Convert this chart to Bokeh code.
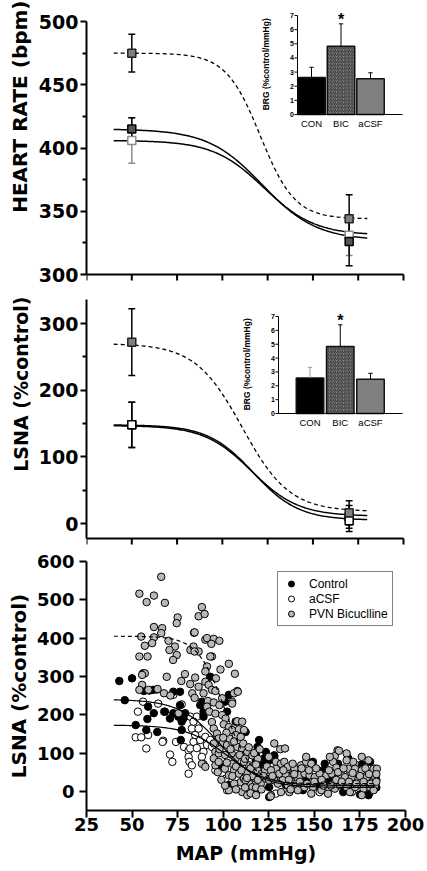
import numpy as np
from bokeh.plotting import figure
from bokeh.models import Range1d, FixedTicker, Title, Legend, LegendItem
from bokeh.layouts import column
from bokeh.embed import file_html
from bokeh.resources import INLINE
from bokeh.core.properties import value

# ---------------- data ----------------
MAP_TICKS = [25, 50, 75, 100, 125, 150, 175, 200]
FIT_MAP_RANGE = [40, 180]
FIT_MAP_RANGE_C = [40, 183]

# Panel A: heart rate (bpm), mean +/- SEM at low and high MAP
HR_MAP = [50, 170]
HR_CON = [415, 326]
HR_CON_ERR = [9, 19]
HR_ACSF = [406, 331]
HR_ACSF_ERR = [18, 16]
HR_BIC = [475, 344]
HR_BIC_ERR = [15, 19]
# sigmoid fits: top, bottom, MAP50, slope
HR_FIT_CON = [415, 327, 122, 15]
HR_FIT_ACSF = [406, 331, 123, 14]
HR_FIT_BIC = [475, 344, 121, 9.5]
HR_TICKS = [300, 350, 400, 450, 500]
HR_MINOR = [325, 375, 425, 475]

# Panel B: LSNA (%control)
LS_MAP = [50, 170]
LS_CON = [148, 10]
LS_CON_ERR = [34, 17]
LS_ACSF = [148, 4]
LS_ACSF_ERR = [34, 16]
LS_BIC = [272, 16]
LS_BIC_ERR = [50, 18]
LS_FIT_CON = [148, 5, 117, 12.5]
LS_FIT_ACSF = [147, 11, 116, 13]
LS_FIT_BIC = [270, 18, 111, 13]
LS_TICKS = [0, 100, 200, 300]
LS_MINOR = [50, 150, 250]

# Insets: baroreflex gain (%control/mmHg)
BRG_GROUPS = ["CON", "BIC", "aCSF"]
BRG_TICKS = [0, 1, 2, 3, 4, 5, 6, 7]
BRG_A = [2.62, 4.83, 2.52]
BRG_A_ERR = [0.72, 1.58, 0.43]
BRG_B = [2.57, 4.83, 2.48]
BRG_B_ERR = [0.76, 1.57, 0.42]

# Panel C: individual LSNA vs MAP points
CTRL_PTS = [(43, 288), (50, 295), (56, 308), (46, 238), (56.5, 262), (59.5, 263), (61.6, 265), (63.5, 266),
            (72.6, 260), (76.3, 260), (58.8, 221), (61.9, 204), (58.4, 189), (68, 208), (70.8, 190), (77.2, 182),
            (52, 173), (57.8, 160), (63.8, 155), (76.7, 134), (76.3, 225), (72.6, 204), (75.4, 195), (78.2, 190),
            (79.1, 204), (77.2, 160), (92.9, 299), (103.1, 252), (88.3, 234), (89.2, 195), (100.9, 234),
            (106.8, 182), (112.3, 155), (119.7, 134), (118.8, 116), (123.4, 103), (122.5, 86), (119.7, 59),
            (124.3, 33), (125.2, 11), (117.9, 81), (121.5, 70), (87.4, 225), (89.2, 208), (102.1, 208),
            (125.2, 81), (149.2, 77), (155.7, 72), (154.8, 55), (128, 90), (145.5, 29), (157.5, 29),
            (125.2, -15), (117.9, 99), (128, 94), (120.6, 74), (168.6, 86), (155.7, 27), (175, -8),
            (179.7, -8), (117.9, -8), (103.1, 16), (98.5, 64), (165.8, -2), (179.7, -10), (163, 72),
            (178.8, 29), (180.6, 77), (139.1, 55), (134.4, 16), (143.7, 3),
            (130, 60), (137, 40), (146, 50), (152, 15), (160, 40), (166, 20), (171, 30), (176, 70),
            (182, 40), (184, 10)]
ACSF_PTS = [(56, 234), (53.2, 208), (64.3, 229), (67.6, 208), (52, 141), (55, 141), (58.8, 147), (57.8, 112),
            (67.1, 132), (74.1, 129), (78.5, 116), (81, 107), (70.8, 96), (72.1, 77), (81, 90), (81.5, 77),
            (81, 46), (72.6, 252), (77.2, 227), (84.6, 116), (82.8, 164), (84.6, 147), (86.5, 164),
            (83.7, 129), (87.4, 134), (90.2, 142), (81.9, 112), (85.5, 113), (89.2, 103), (91.1, 121),
            (88.3, 90), (82.8, 68), (93.8, 116), (92.9, 134), (102.1, 3), (81.9, 195), (85.5, 195),
            (83.7, 182), (128.9, -6), (144.6, 55), (140.9, 29), (152, 29), (163, 29), (168.6, 3),
            (173.2, 64), (183.4, 59), (173.2, 68), (170.5, -2), (152.9, -2), (141.8, 11), (119.7, 11),
            (128.9, 29), (160.3, 20), (176, 16), (108.6, 77), (113.2, 55), (101.3, 33), (95.7, 55),
            (66.7, 129), (135, 45), (148, 35), (158, 10), (166, 45), (172, 25), (178, 45), (184, 30)]
BIC_PTS = [(66, 560), (54, 516), (58, 494), (62, 511), (68, 492), (75, 454), (74.5, 439), (62, 429),
           (66.5, 426), (66, 413), (55, 404), (62, 402), (61, 387), (57, 380), (70, 393), (73.5, 378),
           (70.5, 369), (74.5, 356), (72.5, 343), (54, 352), (58.5, 352), (57, 308), (55.5, 304), (69, 299),
           (79, 306), (77, 288), (55.5, 278), (54, 265), (59, 265), (64, 267), (67.5, 256), (71, 250),
           (84, 414), (82, 369), (83, 256), (75.5, 204), (90.2, 396), (86.5, 365), (93.8, 352),
           (88.3, 481), (86.5, 457), (89.8, 463), (91.1, 400), (94.8, 398), (97.9, 393), (93.5, 385),
           (84.3, 415), (83.7, 378), (84.3, 365), (92.9, 352), (91.1, 326), (90.2, 313), (98.5, 318),
           (103.1, 333), (106.4, 307), (96, 295), (90.2, 286), (84.6, 297), (81.9, 280), (86.5, 273),
           (92, 278), (93.8, 265), (95.7, 262), (89.2, 256), (84.3, 244), (107.7, 262), (105.9, 256),
           (104.9, 234), (91.6, 236), (94.8, 232), (97.9, 225), (99.4, 243), (91.1, 221), (92.4, 208),
           (95.7, 203), (99.4, 199), (101.3, 190), (100.3, 175), (103.1, 168), (104.9, 160), (108.6, 162),
           (111.4, 160), (106.8, 147), (109.6, 142), (93.8, 181), (94.8, 164), (96.6, 151), (97.5, 138),
           (99.4, 124), (102.1, 121), (104.9, 129), (107.7, 116), (110.4, 111), (113.2, 103), (116, 94),
           (95.7, 103), (94.8, 86), (95.7, 68), (97.5, 77), (100.9, 59), (103.1, 42), (105.9, 55),
           (108.6, 46), (109.6, 24), (111.4, 33), (114.2, 20), (117.9, 33), (120.6, 20), (118.8, 55),
           (114.2, 68), (111.4, 77), (106.8, 86), (104.6, 99), (89.2, 71), (103.4, 138), (101.8, 153),
           (107.7, 183), (110.4, 182), (88.3, 72), (90.2, 64), (94.8, 125), (97.5, 99), (104.9, 72),
           (112.3, 29), (103.1, 3), (116, 11), (123.4, 33), (108, 260), (104.9, 229), (121, 45), (118, 10),
           (123, 55), (116, 40), (119, 85), (113, 50), (110.4, -2), (113.2, -10), (106, 20),
           (98, 110), (100, 140), (101, 95), (102, 75), (104, 110), (105, 40), (106, 130), (107, 65),
           (109, 95), (110, 55), (111, 125), (112, 85), (113, 35), (114, 115), (115, 60), (117, 100),
           (118, 70), (119, 30), (120, 110), (121, 5), (122, 40), (124, 65), (125, 90), (99, 30), (97, 50),
           (101, 15), (107, 5), (112, 10), (115, -5), (118, -10),
           (128, 125), (131.3, 110), (133.9, 112), (162.7, 107), (161.2, 92), (160.3, 77), (162.1, 62),
           (128.9, 77), (131.7, 72), (133.5, 77), (135.4, 64), (139.1, 59), (142.7, 68), (145.5, 77),
           (148.3, 72), (128.9, 59), (126.2, 55), (130.8, 46), (134.4, 42), (138.1, 42), (141.8, 42),
           (144.6, 46), (147.4, 42), (150.2, 37), (152.9, 46), (156.6, 42), (159.4, 46), (164.9, 42),
           (125.2, 29), (128, 29), (132.6, 29), (135.4, 16), (140, 20), (144.6, 11), (149.2, 11),
           (148.3, -6), (153.8, 3), (157.5, -6), (161.2, 7), (164, 16), (131.7, -2), (126.2, -10),
           (140.9, 3), (158.5, 90), (145.5, 90), (138.1, 72), (171.3, 77), (176, 90), (167.7, 99),
           (167.7, 81), (179.7, 81), (168.6, 59), (172.3, 59), (176, 55), (182.5, 59), (166.8, 37),
           (170.5, 37), (174.2, 33), (178.8, 37), (182.5, 29), (167.7, 11), (172.3, 11), (177, 7),
           (180.6, 11), (176, -10), (184.3, 59), (183.4, 37), (183.4, 16), (182.5, 3), (126, -13),
           (136.3, -2), (169.5, -2), (163.5, 106),
           (127, 40), (130, 20), (133, 55), (136, 30), (137, 5), (139, 45), (142, 25), (143, 60),
           (146, 20), (147, 55), (150, 25), (151, 60), (154, 30), (155, 15), (158, 55), (159, 15),
           (162, 30), (163, 50), (165, 25), (166, 60), (169, 25), (171, 48), (173, 20), (175, 40),
           (177, 25), (178, 60), (180, 45), (181, 20), (184, 45), (184, 25)]
LSC_FIT_CON = [240, 10, 98, 11]
LSC_FIT_ACSF = [173, 15, 102, 11]
LSC_FIT_BIC = [405, 20, 101, 7.4]
LSC_TICKS = [0, 100, 200, 300, 400, 500, 600]

BOLD = "DejaVu Sans"
ARIAL = "Liberation Sans"
FL = 86    # shared frame left edge (the column aligns the frames)
FR = 405   # frame right edge


def boltz(fit, x):
    top, bot, x50, s = fit
    return bot + (top - bot) / (1.0 + np.exp((x - x50) / s))


def style_axis(ax, tick_size):
    ax.axis_line_width = 2
    ax.axis_line_color = "black"
    ax.major_tick_line_width = 2
    ax.minor_tick_line_width = 2
    ax.major_tick_line_color = "black"
    ax.minor_tick_line_color = "black"
    ax.major_tick_in = 0
    ax.minor_tick_in = 0
    ax.major_tick_out = 6
    ax.minor_tick_out = 4
    ax.major_label_text_font = BOLD
    ax.major_label_text_font_style = "bold"
    ax.major_label_text_font_size = tick_size
    ax.major_label_text_color = "black"
    ax.major_label_standoff = 2


def base_fig(fw, fh, borders, xr, yr, tick_size="19px", xaxis=True):
    l, r, t, b = borders
    p = figure(frame_width=fw, frame_height=fh, x_range=Range1d(*xr), y_range=Range1d(*yr),
               min_border_left=l, min_border_right=r, min_border_top=t, min_border_bottom=b,
               toolbar_location=None, output_backend="svg", title=None,
               x_axis_location="below" if xaxis else None)
    p.grid.visible = False
    p.outline_line_color = None
    style_axis(p.yaxis[0], tick_size)
    if xaxis:
        style_axis(p.xaxis[0], tick_size)
        p.xaxis.ticker = FixedTicker(ticks=MAP_TICKS)
        p.xaxis.minor_tick_line_color = None
        p.xaxis.bounds = (25, 200)
    return p


def glyph_xaxis(p, y_at, tick_len):
    """x axis (line + downward ticks, no labels) drawn with glyphs at data level y_at."""
    p.segment(x0=[MAP_TICKS[0]], y0=[y_at], x1=[MAP_TICKS[-1]], y1=[y_at], line_color="black", line_width=2)
    p.segment(x0=MAP_TICKS, y0=[y_at] * len(MAP_TICKS), x1=MAP_TICKS, y1=[y_at - tick_len] * len(MAP_TICKS),
              line_color="black", line_width=2)


def errbars(p, xs, ys, es, color, cap=1.9, lw=1.5, up_only=False, **kw):
    x0, y0, x1, y1 = [], [], [], []
    for x, y, e in zip(xs, ys, es):
        lo = y if up_only else y - e
        x0 += [x, x - cap]
        x1 += [x, x + cap]
        y0 += [lo, y + e]
        y1 += [y + e, y + e]
        if not up_only:
            x0.append(x - cap)
            x1.append(x + cap)
            y0.append(y - e)
            y1.append(y - e)
    p.segment(x0=x0, y0=y0, x1=x1, y1=y1, line_color=color, line_width=lw, **kw)


def add_title(p, text, size, align, standoff):
    t = Title(text=text, text_font=BOLD, text_font_style="bold", text_font_size=size,
              align=align, standoff=standoff, text_color="black")
    p.add_layout(t, "left")


def add_inset(p, frame, ax_px, end_px, c0_px, c2_px, y0_px, y7_px, vals, errs, con_err_color):
    fl, fr, ft, fb = frame
    kx = (c2_px - c0_px) / 2.0
    ky = (y0_px - y7_px) / 7.0
    ux = lambda px: (px - c0_px) / kx
    uy = lambda py: (y0_px - py) / ky
    p.extra_x_ranges = {"ix": Range1d(ux(fl), ux(fr))}
    p.extra_y_ranges = {"iy": Range1d(uy(fb), uy(ft))}
    kw = dict(x_range_name="ix", y_range_name="iy")
    xs = [0, 1, 2]
    w = 27.5 / kx
    axu = ux(ax_px)
    p.vbar(x=[0], top=[vals[0]], width=w, bottom=0, fill_color="black", line_color="#111111",
           line_width=1.5, **kw)
    p.vbar(x=[1], top=[vals[1]], width=w, bottom=0, fill_color="#8a8a8a", line_color="#111111",
           line_width=1.5, hatch_pattern="/", hatch_color="#2a2a2a", hatch_scale=3.5, hatch_weight=0.9, **kw)
    p.vbar(x=[2], top=[vals[2]], width=w, bottom=0, fill_color="#808080", line_color="#111111",
           line_width=1.5, **kw)
    errbars(p, [0], [vals[0]], [errs[0]], con_err_color, cap=2.2 / kx, lw=1, up_only=True, **kw)
    errbars(p, xs[1:], vals[1:], errs[1:], "black", cap=2.2 / kx, lw=1, up_only=True, **kw)
    p.segment(x0=[axu], y0=[0], x1=[axu], y1=[7], line_color="black", line_width=1, **kw)
    p.segment(x0=[axu], y0=[0], x1=[ux(end_px)], y1=[0], line_color="black", line_width=1, **kw)
    tl = 3.0 / kx
    p.segment(x0=[axu - tl] * len(BRG_TICKS), y0=BRG_TICKS, x1=[axu] * len(BRG_TICKS), y1=BRG_TICKS,
              line_color="black", line_width=1, **kw)
    p.text(x=[axu - tl - 0.02] * len(BRG_TICKS), y=BRG_TICKS, text=[str(t) for t in BRG_TICKS],
           text_font=value(ARIAL), text_font_style="bold", text_font_size=value("7px"),
           text_align="right", text_baseline="middle", text_color="black", **kw)
    p.text(x=xs, y=[uy(y0_px + 8.5)] * 3, text=BRG_GROUPS, text_font=value(ARIAL),
           text_font_size=value("9.5px"), text_align="center", text_baseline="middle",
           text_color="black", **kw)
    p.text(x=[ux(ax_px - 32)], y=[3.55], text=["BRG (%control/mmHg)"], angle=np.pi / 2,
           text_font=value(ARIAL), text_font_style="bold", text_font_size=value("8.5px"),
           text_align="center", text_baseline="middle", text_color="black", **kw)
    p.text(x=[1], y=[uy(y7_px + 4)], text=["*"], text_font=value(ARIAL), text_font_style="bold",
           text_font_size=value("16px"), text_align="center", text_baseline="middle",
           text_color="black", **kw)


# ---------------- panel A (canvas y 0..290) ----------------
pxu = (400 - 83) / 175.0
xr_top = (25, 25 + (FR - FL) / pxu)
ky1 = (274 - 21) / 200.0
p1 = base_fig(FR - FL, 281, (FL, 427 - FR, 0, 9), xr_top, (300 - 7 / ky1, 500 + 21 / ky1), xaxis=False)
p1.yaxis.ticker = FixedTicker(ticks=HR_TICKS, minor_ticks=HR_MINOR)
p1.yaxis.bounds = (300, 500)
glyph_xaxis(p1, 300, 6 / ky1)
add_title(p1, "HEART RATE (bpm)", "20px", "right", 8)
add_inset(p1, (FL, FR, 0, 281), 297, 402, 311, 370, 114, 15, BRG_A, BRG_A_ERR, "black")

xs = np.linspace(FIT_MAP_RANGE[0], FIT_MAP_RANGE[1], 200)
p1.line(xs, boltz(HR_FIT_BIC, xs), line_color="black", line_width=1.3, line_dash="4 3")
p1.line(xs, boltz(HR_FIT_CON, xs), line_color="black", line_width=1.5)
p1.line(xs, boltz(HR_FIT_ACSF, xs), line_color="black", line_width=1.5)
errbars(p1, HR_MAP, HR_ACSF, HR_ACSF_ERR, "#8c8c8c")
errbars(p1, HR_MAP, HR_CON, HR_CON_ERR, "black")
errbars(p1, HR_MAP, HR_BIC, HR_BIC_ERR, "black")
p1.scatter(HR_MAP, HR_ACSF, marker="square", size=8, fill_color="white", line_color="#8c8c8c", line_width=1.5)
p1.scatter(HR_MAP, HR_CON, marker="square", size=8, fill_color="#555555", line_color="black", line_width=1.5)
p1.scatter(HR_MAP, HR_BIC, marker="square", size=8, fill_color="#808080", line_color="#222222", line_width=1.5)

# ---------------- panel B (canvas y 290..550) ----------------
ky2 = (523 - 323) / 300.0
y_axis_b = -(538 - 523) / ky2
p2 = base_fig(FR - FL, 249, (FL, 427 - FR, 6, 5), xr_top, (y_axis_b - 7 / ky2, 300 + (323 - 296) / ky2),
              xaxis=False)
p2.yaxis.ticker = FixedTicker(ticks=LS_TICKS, minor_ticks=LS_MINOR)
p2.yaxis.bounds = (y_axis_b, 300 + (323 - 299) / ky2)
glyph_xaxis(p2, y_axis_b, 6 / ky2)
add_title(p2, "LSNA (%control)", "19px", "right", 8)
add_inset(p2, (FL, FR, 296, 545), 278, 402, 309.5, 370, 413, 316, BRG_B, BRG_B_ERR, "#9a9a9a")

p2.line(xs, boltz(LS_FIT_BIC, xs), line_color="black", line_width=1.3, line_dash="4 3")
p2.line(xs, boltz(LS_FIT_CON, xs), line_color="black", line_width=1.5)
p2.line(xs, boltz(LS_FIT_ACSF, xs), line_color="black", line_width=1.5)
errbars(p2, LS_MAP, LS_CON, LS_CON_ERR, "black")
errbars(p2, LS_MAP, LS_ACSF, LS_ACSF_ERR, "black")
errbars(p2, LS_MAP, LS_BIC, LS_BIC_ERR, "black")
p2.scatter(LS_MAP, LS_CON, marker="square", size=8, fill_color="#555555", line_color="black", line_width=1.5)
p2.scatter(LS_MAP, LS_ACSF, marker="square", size=8, fill_color="white", line_color="black", line_width=1.5)
p2.scatter(LS_MAP, LS_BIC, marker="square", size=8, fill_color="#808080", line_color="#222222", line_width=1.5)

# ---------------- panel C (canvas y 550..871) ----------------
p3 = base_fig(FR - FL, 249, (FL, 427 - FR, 11, 61), (25, 200), (-50, 600), tick_size="18px")
p3.yaxis.ticker = FixedTicker(ticks=LSC_TICKS)
p3.yaxis.minor_tick_line_color = None
p3.yaxis.bounds = (-50, 600)
p3.yaxis.major_tick_out = 7
p3.yaxis.major_label_standoff = 5
p3.xaxis.major_tick_out = 7
p3.xaxis.major_label_standoff = 0
p3.xaxis.axis_label = "MAP (mmHg)"
p3.xaxis.axis_label_text_font = BOLD
p3.xaxis.axis_label_text_font_style = "bold"
p3.xaxis.axis_label_text_font_size = "19px"
p3.xaxis.axis_label_text_color = "black"
p3.xaxis.axis_label_standoff = 8
add_title(p3, "LSNA (%control)", "20px", "center", 6)


def split(pts):
    return [a for a, b in pts], [b for a, b in pts]


ax_, ay_ = split(ACSF_PTS)
cx_, cy_ = split(CTRL_PTS)
bx_, by_ = split(BIC_PTS)
r_acsf = p3.scatter(ax_, ay_, marker="circle", size=7.5, fill_color="white", line_color="black", line_width=1)
r_ctrl = p3.scatter(cx_, cy_, marker="circle", size=7.5, fill_color="black", line_color="black", line_width=1)
r_bic = p3.scatter(bx_, by_, marker="circle", size=7.5, fill_color="#b8b8b8", line_color="black", line_width=1)

xc = np.linspace(FIT_MAP_RANGE_C[0], FIT_MAP_RANGE_C[1], 200)
p3.line(xc, boltz(LSC_FIT_BIC, xc), line_color="black", line_width=1.2, line_dash="4 3")
p3.line(xc, boltz(LSC_FIT_CON, xc), line_color="black", line_width=1.2)
p3.line(xc, boltz(LSC_FIT_ACSF, xc), line_color="black", line_width=1.2)

legend = Legend(items=[LegendItem(label="Control", renderers=[r_ctrl]),
                       LegendItem(label="aCSF", renderers=[r_acsf]),
                       LegendItem(label="PVN Bicuclline", renderers=[r_bic])],
                location=(277 - FL, 184), padding=4, spacing=0, margin=0, glyph_width=18,
                glyph_height=15, label_height=15, label_standoff=9, label_text_font=ARIAL,
                label_text_font_size="12px", label_text_color="black", border_line_color="black",
                border_line_width=1, background_fill_alpha=1.0)
p3.add_layout(legend, "center")

layout = column(p1, p2, p3, spacing=0)
open("out.html", "w").write(file_html(layout, INLINE))
